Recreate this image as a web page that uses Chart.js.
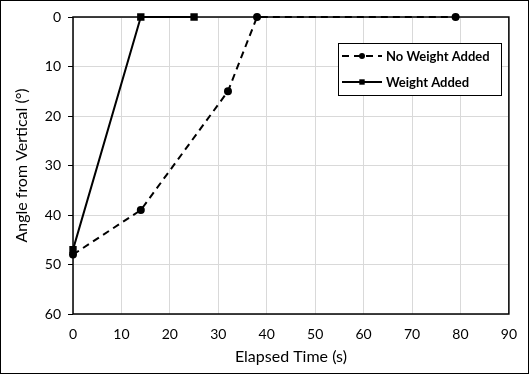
<!DOCTYPE html>
<html>
<head>
<meta charset="utf-8">
<script src="https://cdn.jsdelivr.net/npm/chart.js@4.4.0/dist/chart.umd.min.js"></script>
<style>
  body { margin: 0; background: #fff; }
  #wrap { width: 529px; height: 374px; }
</style>
</head>
<body>
<div id="wrap"><canvas id="myChart" width="529" height="374"></canvas></div>
<script>
// data
const noWeightTime = [0, 14, 32, 38, 79];
const noWeightAngle = [48, 39, 15, 0, 0];
const weightTime = [0, 14, 25];
const weightAngle = [47, 0, 0];
const seriesLabels = ["No Weight Added", "Weight Added"];
const xTicks = [0, 10, 20, 30, 40, 50, 60, 70, 80, 90];
const yTicks = [0, 10, 20, 30, 40, 50, 60];

const FONT = "Lato, 'Open Sans', sans-serif";

const toPoints = (xs, ys) => xs.map((x, i) => ({ x: x, y: ys[i] }));

// frame around the whole picture and around the plot area
const framePlugin = {
  id: "frame",
  beforeDatasetsDraw(chart) {
    const { ctx, chartArea: a } = chart;
    ctx.save();
    ctx.strokeStyle = "#000";
    ctx.lineWidth = 1.5;
    ctx.strokeRect(a.left, a.top, a.right - a.left, a.bottom - a.top);
    ctx.restore();
  },
  afterDraw(chart) {
    const ctx = chart.ctx;
    ctx.save();
    ctx.strokeStyle = "#000";
    ctx.lineWidth = 1;
    ctx.strokeRect(0.5, 0.5, chart.width - 1, chart.height - 1);
    ctx.restore();
  },
};

// legend box inside the plot
const boxLegend = {
  id: "boxLegend",
  afterDraw(chart) {
    const ctx = chart.ctx;
    const x0 = 338, y0 = 43, w = 163, h = 52;
    ctx.save();
    ctx.fillStyle = "#fff";
    ctx.fillRect(x0, y0, w, h);
    ctx.strokeStyle = "#000";
    ctx.lineWidth = 1;
    ctx.strokeRect(x0 + 0.5, y0 + 0.5, w, h);
    chart.data.datasets.forEach((ds, i) => {
      const y = y0 + 13 + i * 26;
      ctx.strokeStyle = "#000";
      ctx.lineWidth = 2;
      ctx.setLineDash(ds.borderDash || []);
      ctx.beginPath();
      ctx.moveTo(x0 + 4, y);
      ctx.lineTo(x0 + 44, y);
      ctx.stroke();
      ctx.setLineDash([]);
      ctx.fillStyle = "#000";
      if (ds.pointStyle === "rect") {
        ctx.fillRect(x0 + 24 - 2.7, y - 2.7, 5.4, 5.4);
      } else {
        ctx.beginPath();
        ctx.arc(x0 + 24, y, 3, 0, Math.PI * 2);
        ctx.fill();
      }
      ctx.font = "bold 13px " + FONT;
      ctx.textBaseline = "middle";
      ctx.textAlign = "left";
      ctx.fillText(ds.label, x0 + 48, y + 1);
    });
    ctx.restore();
  },
};

const ctx = document.getElementById("myChart");

new Chart(ctx, {
  type: "scatter",
  data: {
    datasets: [
      {
        label: seriesLabels[0],
        data: toPoints(noWeightTime, noWeightAngle),
        showLine: true,
        borderColor: "#000",
        backgroundColor: "#000",
        borderWidth: 2,
        borderDash: [7, 5],
        pointStyle: "circle",
        pointRadius: 3,
        pointHoverRadius: 3,
      },
      {
        label: seriesLabels[1],
        data: toPoints(weightTime, weightAngle),
        showLine: true,
        borderColor: "#000",
        backgroundColor: "#000",
        borderWidth: 2,
        pointStyle: "rect",
        pointRadius: 3.8,
        pointHoverRadius: 3.8,
      },
    ],
  },
  options: {
    responsive: false,
    animation: false,
    clip: false,
    layout: { padding: { top: 17, right: 18, left: 0, bottom: 0 } },
    plugins: {
      legend: { display: false },
      tooltip: { enabled: false },
    },
    scales: {
      x: {
        type: "linear",
        min: 0,
        max: 90,
        afterBuildTicks: (s) => { s.ticks = xTicks.map((v) => ({ value: v })); },
        afterFit: (s) => { s.height = 60; },
        ticks: { color: "#000", font: { family: FONT, size: 14 }, padding: 12 },
        grid: { color: "#d9d9d9", drawTicks: false },
        border: { display: false },
        title: {
          display: true,
          text: "Elapsed Time (s)",
          color: "#000",
          font: { family: FONT, size: 16 },
          padding: { top: 0, bottom: 8 },
        },
      },
      y: {
        reverse: true,
        min: 0,
        max: 60,
        afterBuildTicks: (s) => { s.ticks = yTicks.map((v) => ({ value: v })); },
        afterFit: (s) => { s.width = 73; },
        ticks: { color: "#000", font: { family: FONT, size: 14 }, padding: 7 },
        grid: { color: "#d9d9d9", tickColor: "#000", tickLength: 5 },
        border: { display: false },
        title: {
          display: true,
          text: "Angle from Vertical (°)",
          color: "#000",
          font: { family: FONT, size: 16 },
          padding: { top: 12, bottom: 0 },
        },
      },
    },
  },
  plugins: [framePlugin, boxLegend],
});
</script>
</body>
</html>
